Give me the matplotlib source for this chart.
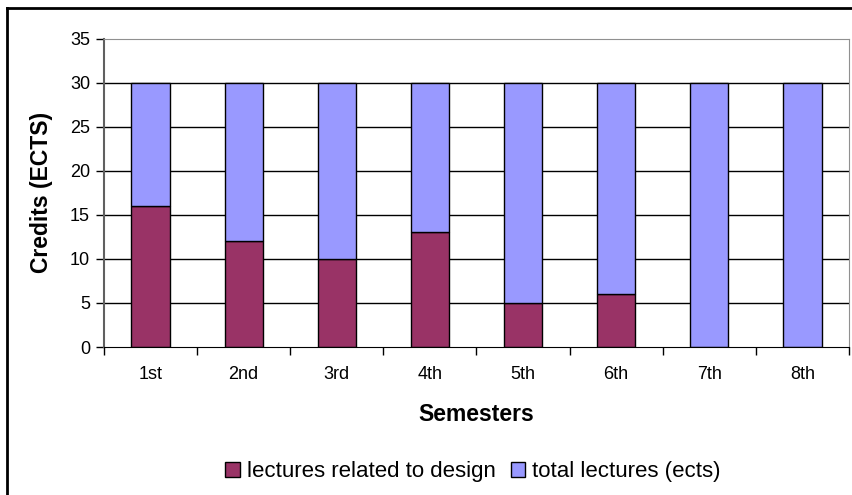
import matplotlib
matplotlib.use('Agg')
import matplotlib.pyplot as plt
from matplotlib.lines import Line2D
import numpy as np

# values
semesters = ['1st', '2nd', '3rd', '4th', '5th', '6th', '7th', '8th']
design_credits = [16, 12, 10, 13, 5, 6, 0, 0]
total_credits = [30, 30, 30, 30, 30, 30, 30, 30]
y_ticks = [0, 5, 10, 15, 20, 25, 30, 35]

plt.rcParams['font.family'] = ['Liberation Sans', 'DejaVu Sans']

W, H = 853, 495
fig = plt.figure(figsize=(W / 100, H / 100), dpi=100)
ax = fig.add_axes([104 / W, 1 - 347 / H, (849 - 104) / W, (347 - 38.5) / H])

x = np.arange(len(semesters))
design = np.array(design_credits)
rest = np.array(total_credits) - design

ax.bar(x, design, width=0.41, color='#993366', edgecolor='black', linewidth=1,
       label='lectures related to design', zorder=3)
ax.bar(x, rest, width=0.41, bottom=design, color='#9999FF', edgecolor='black',
       linewidth=1, label='total lectures (ects)', zorder=3)

ax.set_xlim(-0.5, len(semesters) - 0.5)
ax.set_ylim(0, 35)
ax.set_yticks(y_ticks)
ax.set_xticks(x)
ax.set_xticklabels(semesters)
ax.set_xticks(np.arange(len(semesters) + 1) - 0.5, minor=True)
ax.tick_params(axis='x', which='major', length=0, labelsize=13, pad=14)
ax.tick_params(axis='x', which='minor', length=6, width=1, color='black')
ax.tick_params(axis='y', length=6, width=1, labelsize=13, pad=4, color='black')

for v in y_ticks[1:-1]:
    ax.axhline(v, color='black', linewidth=1, zorder=1)

ax.spines['top'].set_color('#909090')
ax.spines['right'].set_color('#909090')
ax.spines['left'].set_color('#606060')
ax.spines['left'].set_linewidth(1.5)
ax.spines['bottom'].set_color('black')
ax.spines['bottom'].set_zorder(4)

ax.set_xlabel('Semesters', fontsize=16.5, fontweight='bold', labelpad=14)
ax.set_ylabel('Credits (ECTS)', fontsize=16.5, fontweight='bold', labelpad=12)

leg = fig.legend(loc='center', bbox_to_anchor=(473 / W, 1 - 472 / H), ncol=2,
                 frameon=False, fontsize=16, handlelength=0.65, handleheight=0.65,
                 handletextpad=0.3, columnspacing=0.7, borderaxespad=0)

# outer chart border (left and top only visible)
fig.add_artist(Line2D([7.5 / W, 7.5 / W], [0, 1 - 7.5 / H], color='black', linewidth=2,
                      transform=fig.transFigure))
fig.add_artist(Line2D([7.5 / W, 1], [1 - 7.5 / H, 1 - 7.5 / H], color='black', linewidth=2,
                      transform=fig.transFigure))

fig.savefig('out.png', dpi=100)
